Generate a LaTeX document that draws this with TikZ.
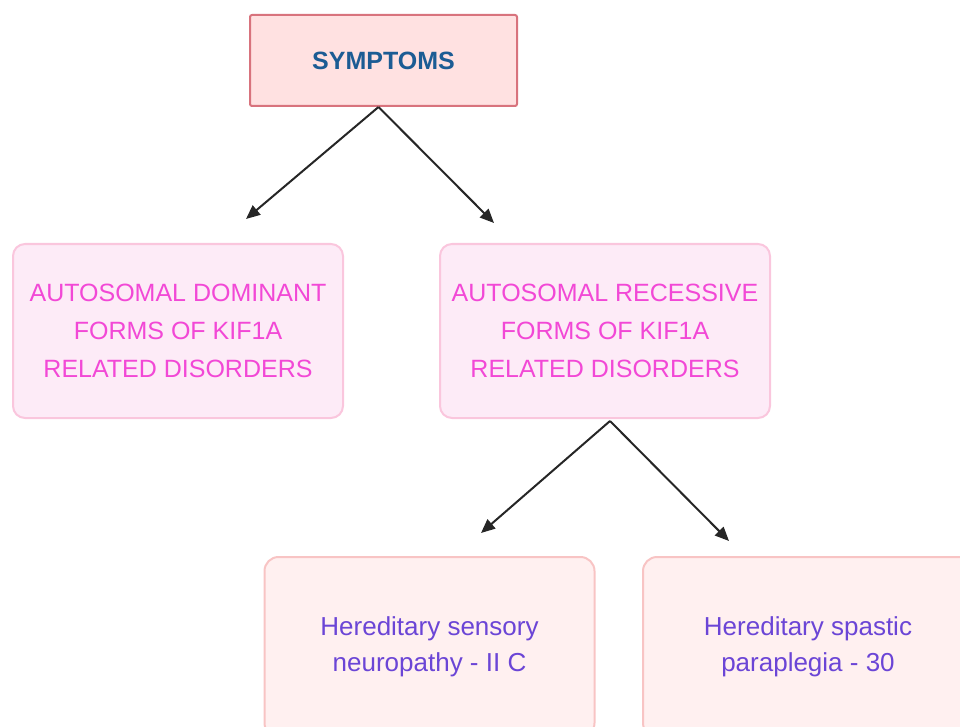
\documentclass[tikz,border=0pt]{standalone}
\usepackage{xcolor}
\usepackage{fontspec}
\setmainfont{Liberation Sans}
\usepackage{tikz}
\usetikzlibrary{arrows,arrows.meta,positioning,shapes,calc}

\definecolor{topfill}{HTML}{FFE1E1}
\definecolor{topdraw}{HTML}{D8737D}
\definecolor{toptext}{HTML}{1C5C94}
\definecolor{midfill}{HTML}{FDEBF7}
\definecolor{middraw}{HTML}{FAC6DD}
\definecolor{midtext}{HTML}{F248D6}
\definecolor{lowfill}{HTML}{FFF0F0}
\definecolor{lowdraw}{HTML}{F8C4C4}
\definecolor{lowtext}{HTML}{6B45D6}

\begin{document}
\begin{tikzpicture}[x=1pt,y=-1pt,
    headbox/.style={draw=topdraw,fill=topfill,line width=2pt,rounded corners=2pt,
        minimum width=267pt,minimum height=91pt,text=toptext,
        font=\fontsize{25}{30}\selectfont\bfseries},
    formbox/.style={draw=middraw,fill=midfill,line width=2pt,rounded corners=12pt,
        minimum width=330pt,minimum height=174pt,text=midtext,align=center,
        font=\fontsize{25}{38}\selectfont},
    diseasebox/.style={draw=lowdraw,fill=lowfill,line width=2pt,rounded corners=14pt,
        minimum width=330pt,minimum height=180pt,text=lowtext,align=center,
        font=\fontsize{26}{36}\selectfont},
    branch/.style={-{Triangle[length=14pt,width=12pt]},line width=2pt,draw=black!85}]
    \useasboundingbox (0,0) rectangle (960,727);

    % Top box
    \node[headbox] (symptoms) at (383.5,60.5) {SYMPTOMS};

    % Two forms
    \node[formbox] (dominant) at (178,331) {AUTOSOMAL DOMINANT\\FORMS OF KIF1A\\RELATED DISORDERS};
    \node[formbox] (recessive) at (605,331) {AUTOSOMAL RECESSIVE\\FORMS OF KIF1A\\RELATED DISORDERS};

    % Recessive disorders (cut by the page edge)
    \node[diseasebox] (sensory) at (429.5,647) {Hereditary sensory\\neuropathy - II C};
    \node[diseasebox] (spastic) at (808,647) {Hereditary spastic\\paraplegia - 30};

    % Free arrow ends
    \coordinate (domend) at (246,219);
    \coordinate (recend) at (494,223);
    \coordinate (sensend) at (481,533);
    \coordinate (spasend) at (729,541);

    % Arrows
    \draw[branch] ($(symptoms.south)+(-5,0)$) -- (domend);
    \draw[branch] ($(symptoms.south)+(-5,0)$) -- (recend);
    \draw[branch] ($(recessive.south)+(5,2)$) -- (sensend);
    \draw[branch] ($(recessive.south)+(5,2)$) -- (spasend);
\end{tikzpicture}
\end{document}
